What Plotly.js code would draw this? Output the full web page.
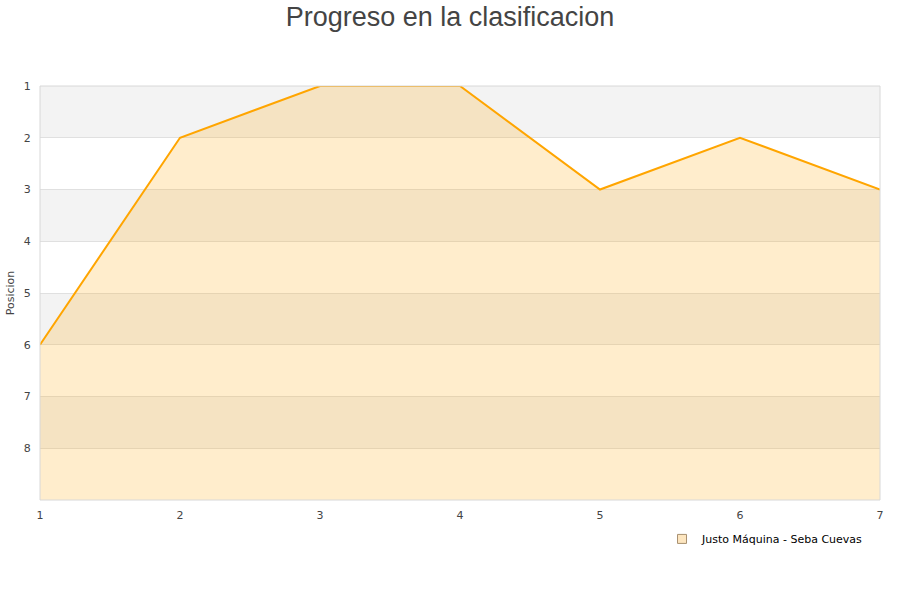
<!DOCTYPE html>
<html>
<head>
<meta charset="utf-8">
<script src="https://cdn.plot.ly/plotly-3.0.1.min.js"></script>
<style>html,body{margin:0;padding:0;background:#fff;}#chart{width:900px;height:600px;}</style>
</head>
<body>
<div id="chart"></div>
<script>
var jornadas = [1, 2, 3, 4, 5, 6, 7];
var posiciones = [6, 2, 1, 1, 3, 2, 3];
var serieNombre = 'Justo Máquina - Seba Cuevas';
var yTicks = [1, 2, 3, 4, 5, 6, 7, 8];
var yFondo = 9;

var base = jornadas.map(function(){ return yFondo; });

var traces = [
  {x: jornadas, y: base, mode: 'lines', line: {width: 0, color: 'rgba(0,0,0,0)'}, showlegend: false, hoverinfo: 'skip'},
  {x: jornadas, y: posiciones, mode: 'lines', fill: 'tonexty', fillcolor: 'rgba(255,165,0,0.2)',
   line: {color: '#FFA500', width: 2}, showlegend: false, name: serieNombre},
  {x: [null], y: [null], mode: 'markers', name: serieNombre,
   marker: {symbol: 'square', size: 9, color: '#fde6c0', line: {color: '#a89070', width: 1}}}
];

var shapes = [];
for (var i = 1; i < yFondo; i += 2) {
  shapes.push({type: 'rect', xref: 'paper', yref: 'y', x0: 0, x1: 1, y0: i, y1: i + 1,
    fillcolor: '#f3f3f3', line: {width: 0}, layer: 'below'});
}
shapes.push({type: 'rect', xref: 'paper', yref: 'paper', x0: 0, x1: 1, y0: 0, y1: 1,
  fillcolor: 'rgba(0,0,0,0)', line: {color: '#d8d8d8', width: 1}, layer: 'above'});

var layout = {
  width: 900, height: 600,
  margin: {l: 40, r: 20, t: 86, b: 100},
  paper_bgcolor: '#ffffff', plot_bgcolor: 'rgba(0,0,0,0)',
  title: {text: 'Progreso en la clasificacion', x: 0.5, xanchor: 'center', y: 0.973, yanchor: 'middle',
    font: {family: 'Liberation Sans, Arial, sans-serif', size: 27, color: '#444'}},
  xaxis: {range: [1, 7], tickvals: jornadas, showgrid: false, zeroline: false, showline: false,
    ticks: 'outside', ticklen: 5, tickcolor: 'rgba(0,0,0,0)',
    tickfont: {family: 'DejaVu Sans, sans-serif', size: 11, color: '#444'}},
  yaxis: {range: [yFondo, 1], tickvals: yTicks, showgrid: true, gridcolor: '#e0e0e0', gridwidth: 1,
    zeroline: false, showline: false, ticks: 'outside', ticklen: 6, tickcolor: 'rgba(0,0,0,0)',
    tickfont: {family: 'DejaVu Sans, sans-serif', size: 11, color: '#444'},
    title: {text: 'Posicion', standoff: 6, font: {family: 'DejaVu Sans, sans-serif', size: 11, color: '#444'}}},
  shapes: shapes,
  showlegend: true,
  legend: {x: 0.7405, y: -0.094, xanchor: 'left', yanchor: 'middle', bgcolor: 'rgba(0,0,0,0)',
    font: {family: 'DejaVu Sans, sans-serif', size: 11, color: '#000'}, itemwidth: 30}
};

Plotly.newPlot('chart', traces, layout, {displayModeBar: false, staticPlot: true});
</script>
</body>
</html>
